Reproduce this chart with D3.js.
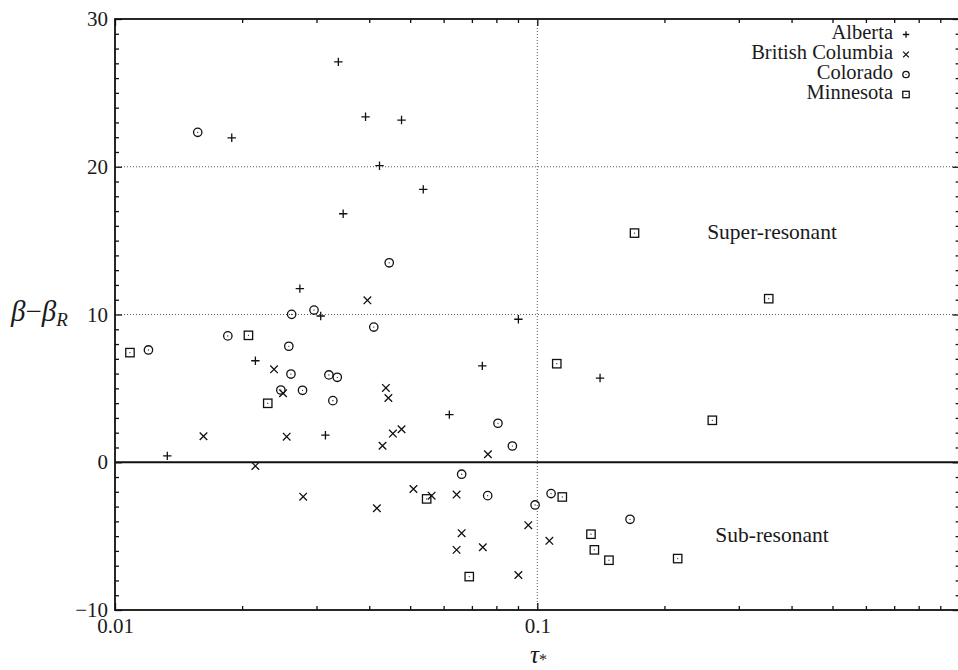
<!DOCTYPE html>
<html>
<head>
<meta charset="utf-8">
<script src="https://cdn.jsdelivr.net/npm/d3@7"></script>
<style>
  body { margin: 0; background: #fff; }
  svg text { font-family: "Liberation Serif", "DejaVu Serif", serif; fill: #1a1a1a; }
</style>
</head>
<body>
<svg id="chart" width="958" height="670"></svg>
<script>
// data: tau_* and beta - beta_R
const albertaTau  = [0.0338, 0.0392, 0.0477, 0.0423, 0.0537, 0.0189, 0.0347, 0.0274, 0.0307, 0.0902, 0.0215, 0.0741, 0.1408, 0.0619, 0.0315, 0.0133];
const albertaBeta = [27.1, 23.38, 23.16, 20.07, 18.47, 21.96, 16.82, 11.75, 9.9, 9.68, 6.87, 6.52, 5.7, 3.22, 1.83, 0.43];

const bcTau  = [0.0396, 0.0238, 0.025, 0.0438, 0.0444, 0.0162, 0.0255, 0.0477, 0.0455, 0.043, 0.0764, 0.0215, 0.0279, 0.0509, 0.0562, 0.0644, 0.0417, 0.0952, 0.0662, 0.1068, 0.0644, 0.0743, 0.0902];
const bcBeta = [10.96, 6.29, 4.67, 5.03, 4.35, 1.76, 1.73, 2.23, 1.94, 1.12, 0.54, -0.25, -2.33, -1.81, -2.26, -2.19, -3.11, -4.26, -4.8, -5.32, -5.93, -5.75, -7.63];

const coloradoTau  = [0.0157, 0.0446, 0.0296, 0.0262, 0.041, 0.0185, 0.012, 0.0258, 0.0261, 0.0321, 0.0336, 0.0247, 0.0278, 0.0328, 0.0807, 0.0873, 0.0662, 0.0763, 0.1078, 0.0988, 0.1658];
const coloradoBeta = [22.33, 13.5, 10.3, 10.01, 9.15, 8.55, 7.6, 7.85, 5.97, 5.91, 5.75, 4.89, 4.87, 4.17, 2.64, 1.1, -0.81, -2.26, -2.12, -2.89, -3.86];

const minnesotaTau  = [0.1699, 0.3532, 0.1112, 0.0207, 0.01085, 0.023, 0.2597, 0.0547, 0.1146, 0.134, 0.1365, 0.1478, 0.069, 0.215];
const minnesotaBeta = [15.51, 11.07, 6.67, 8.59, 7.42, 3.99, 2.84, -2.48, -2.35, -4.87, -5.93, -6.63, -7.74, -6.52];

const seriesNames = ["Alberta", "British Columbia", "Colorado", "Minnesota"];
const seriesSymbols = ["plus", "cross", "circle", "square"];

const xMajor = [0.01, 0.1, 1];
const xMinor = [0.02, 0.03, 0.04, 0.05, 0.06, 0.07, 0.08, 0.09, 0.2, 0.3, 0.4, 0.5, 0.6, 0.7, 0.8, 0.9];
const xLabels = [0.01, 0.1];
const yMajor = [-10, 0, 10, 20, 30];
const yMinor = d3.range(-10, 31).filter(v => v % 10 !== 0);
const yGrid = [10, 20];
const xGrid = [0.1];

const plotL = 115, plotR = 959.6, plotT = 19, plotB = 610;

const x = d3.scaleLog().domain([0.01, 1]).range([plotL, plotR]);
const y = d3.scaleLinear().domain([-10, 30]).range([plotB, plotT]);

const svg = d3.select("#chart");

// dotted grid
svg.selectAll(".hgrid").data(yGrid).enter().append("line")
  .attr("x1", plotL).attr("x2", plotR)
  .attr("y1", d => y(d)).attr("y2", d => y(d))
  .attr("stroke", "#333").attr("stroke-width", 0.8).attr("stroke-dasharray", "1,2");
svg.selectAll(".vgrid").data(xGrid).enter().append("line")
  .attr("x1", d => x(d)).attr("x2", d => x(d))
  .attr("y1", plotT).attr("y2", plotB)
  .attr("stroke", "#333").attr("stroke-width", 0.8).attr("stroke-dasharray", "1,2");

// zero line
svg.append("line")
  .attr("x1", plotL).attr("x2", plotR)
  .attr("y1", y(0)).attr("y2", y(0))
  .attr("stroke", "#111").attr("stroke-width", 2);

// axes with inward ticks
function tickAxis(axis, pos, vals, size) {
  const g = svg.append("g").attr("transform", pos)
    .call(axis.tickValues(vals).tickSize(-size).tickFormat(""));
  g.select(".domain").remove();
  g.selectAll("line").attr("stroke", "#111").attr("stroke-width", 1.3);
  return g;
}
tickAxis(d3.axisBottom(x), `translate(0,${plotB})`, xMinor, 4);
tickAxis(d3.axisBottom(x), `translate(0,${plotB})`, xMajor, 7);
tickAxis(d3.axisTop(x), `translate(0,${plotT})`, xMinor, 4);
tickAxis(d3.axisTop(x), `translate(0,${plotT})`, xMajor, 7);
tickAxis(d3.axisLeft(y), `translate(${plotL},0)`, yMinor, 4);
tickAxis(d3.axisLeft(y), `translate(${plotL},0)`, yMajor, 7);
tickAxis(d3.axisRight(y), `translate(${plotR},0)`, yMinor, 4);
tickAxis(d3.axisRight(y), `translate(${plotR},0)`, yMajor, 7);

// tick labels
const xl = svg.append("g").attr("transform", `translate(0,${plotB})`)
  .call(d3.axisBottom(x).tickValues(xLabels).tickSize(0).tickPadding(8).tickFormat(d3.format("")));
xl.select(".domain").remove();
xl.selectAll("text").attr("font-size", 21).attr("fill", "#1a1a1a");

const yl = svg.append("g").attr("transform", `translate(${plotL},0)`)
  .call(d3.axisLeft(y).tickValues(yMajor).tickSize(0).tickPadding(7));
yl.select(".domain").remove();
yl.selectAll("text").attr("font-size", 21).attr("fill", "#1a1a1a");

// frame
svg.append("rect")
  .attr("x", plotL).attr("y", plotT)
  .attr("width", plotR - plotL).attr("height", plotB - plotT)
  .attr("fill", "none").attr("stroke", "#111").attr("stroke-width", 1.8);

// markers
function drawSymbol(g, kind, cx, cy, s) {
  const st = { stroke: "#111", "stroke-width": 1.3, fill: "none" };
  const add = (tag) => { const e = g.append(tag); Object.entries(st).forEach(([k, v]) => e.attr(k, v)); return e; };
  if (kind === "plus") {
    add("path").attr("d", `M${cx - s},${cy}H${cx + s}M${cx},${cy - s}V${cy + s}`);
  } else if (kind === "cross") {
    const a = s * 0.9;
    add("path").attr("d", `M${cx - a},${cy - a}L${cx + a},${cy + a}M${cx - a},${cy + a}L${cx + a},${cy - a}`);
  } else if (kind === "circle") {
    add("circle").attr("cx", cx).attr("cy", cy).attr("r", s);
    g.append("circle").attr("cx", cx).attr("cy", cy).attr("r", 0.6).attr("fill", "#111");
  } else {
    add("rect").attr("x", cx - s).attr("y", cy - s).attr("width", 2 * s).attr("height", 2 * s);
    g.append("circle").attr("cx", cx).attr("cy", cy).attr("r", 0.6).attr("fill", "#111");
  }
}

const allSeries = [
  [albertaTau, albertaBeta],
  [bcTau, bcBeta],
  [coloradoTau, coloradoBeta],
  [minnesotaTau, minnesotaBeta]
];
const pts = svg.append("g");
allSeries.forEach(([taus, betas], i) => {
  taus.forEach((t, j) => drawSymbol(pts, seriesSymbols[i], x(t), y(betas[j]), 4.2));
});

// legend
const leg = svg.append("g");
seriesNames.forEach((name, i) => {
  const by = 39 + i * 20;
  leg.append("text").attr("x", 893).attr("y", by)
    .attr("text-anchor", "end").attr("font-size", 20.5).text(name);
  drawSymbol(leg, seriesSymbols[i], 906, by - 4.5, 3.2);
});

// region labels
svg.append("text").attr("x", 772).attr("y", 239).attr("text-anchor", "middle")
  .attr("font-size", 21.5).text("Super-resonant");
svg.append("text").attr("x", 772).attr("y", 542).attr("text-anchor", "middle")
  .attr("font-size", 21.5).text("Sub-resonant");

// axis titles
const yt = svg.append("text").attr("x", 11).attr("y", 321).attr("font-size", 29);
yt.append("tspan").attr("font-style", "italic").text("β");
yt.append("tspan").text("−");
yt.append("tspan").attr("font-style", "italic").text("β");
yt.append("tspan").attr("font-style", "italic").attr("font-size", 19).attr("dy", 5).text("R");

const xt = svg.append("text").attr("x", 530).attr("y", 663).attr("font-size", 25);
xt.append("tspan").attr("font-style", "italic").text("τ");
xt.append("tspan").attr("font-size", 16).attr("dy", 2).text("*");
</script>
</body>
</html>
